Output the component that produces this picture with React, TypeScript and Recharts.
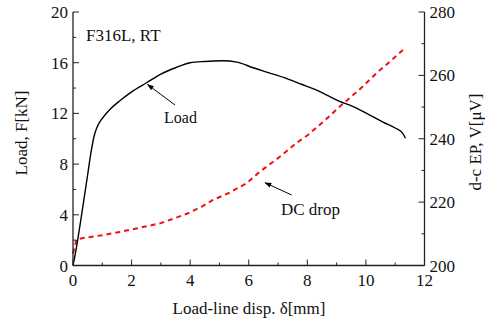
import React from "react";
import { ComposedChart, XAxis, YAxis, Line, Label } from "recharts";

// displacement [mm] vs load [kN]
const loadX = [0, 0.1, 0.3, 0.49, 0.62, 0.72, 0.81, 0.92, 1.03, 1.3, 1.6, 2.0, 2.5, 3.0, 3.5, 4.0, 4.5, 5.1, 5.6, 6.15, 6.7, 7.3, 7.8, 8.3, 8.7, 9.1, 9.45, 10.13, 10.6, 11.0, 11.26, 11.35];
const loadF = [0, 1.2, 4.1, 7.0, 9.0, 10.2, 10.85, 11.35, 11.7, 12.4, 13.0, 13.7, 14.4, 15.1, 15.6, 16.0, 16.1, 16.15, 16.05, 15.6, 15.2, 14.75, 14.3, 13.85, 13.4, 12.95, 12.65, 11.87, 11.3, 10.85, 10.43, 10.04];

// displacement [mm] vs d-c potential drop [uV]
const dcX = [0, 0.12, 0.5, 1.03, 1.6, 2.17, 2.97, 3.5, 3.93, 4.4, 4.78, 5.3, 5.92, 6.38, 7.06, 7.62, 8.02, 8.6, 9.16, 9.8, 10.35, 10.9, 11.26];
const dcV = [203.8, 208.3, 208.9, 209.6, 210.6, 211.7, 213.3, 215.0, 216.5, 218.6, 220.7, 222.8, 225.9, 229.6, 234.3, 238.6, 241.2, 245.8, 250.6, 255.7, 260.6, 265.0, 268.0];

const xTicks = [0, 1, 2, 3, 4, 5, 6, 7, 8, 9, 10, 11, 12];
const leftTicks = [0, 2, 4, 6, 8, 10, 12, 14, 16, 18, 20];
const rightTicks = [200, 210, 220, 230, 240, 250, 260, 270, 280];

const loadData = loadX.map((x, i) => ({ x, y: loadF[i] }));
const dcData = dcX.map((x, i) => ({ x, y: dcV[i] }));

const FONT = "Liberation Serif, Times New Roman, serif";
const AXIS = "#222";
const MAJOR = 6;
const MINOR = 3;

const BottomTick = (props: any) => {
  const { x, y, payload } = props;
  const major = payload.value % 2 === 0;
  return (
    <g>
      <line x1={x} y1={y} x2={x} y2={y - (major ? MAJOR : MINOR)} stroke={AXIS} strokeWidth={1} />
      {major && (
        <text x={x} y={y + 20} textAnchor="middle" fontFamily={FONT} fontSize={17} fill="#111">
          {payload.value}
        </text>
      )}
    </g>
  );
};

const TopTick = (props: any) => {
  const { x, y, payload } = props;
  const major = payload.value % 2 === 0;
  return <line x1={x} y1={y} x2={x} y2={y + (major ? MAJOR : MINOR)} stroke={AXIS} strokeWidth={1} />;
};

const LeftTick = (props: any) => {
  const { x, y, payload } = props;
  const major = payload.value % 4 === 0;
  return (
    <g>
      <line x1={x} y1={y} x2={x + (major ? MAJOR : MINOR)} y2={y} stroke={AXIS} strokeWidth={1} />
      {major && (
        <text x={x - 5} y={y + 6} textAnchor="end" fontFamily={FONT} fontSize={17} fill="#111">
          {payload.value}
        </text>
      )}
    </g>
  );
};

const RightTick = (props: any) => {
  const { x, y, payload } = props;
  const major = payload.value % 20 === 0;
  return (
    <g>
      <line x1={x} y1={y} x2={x - (major ? MAJOR : MINOR)} y2={y} stroke={AXIS} strokeWidth={1} />
      {major && (
        <text x={x + 5} y={y + 6} textAnchor="start" fontFamily={FONT} fontSize={17} fill="#111">
          {payload.value}
        </text>
      )}
    </g>
  );
};

const titleStyle = { fontFamily: FONT, fontSize: 17, fill: "#111" };

export default function App() {
  return (
    <div style={{ position: "absolute", left: 0, top: 0, width: 485, height: 324, background: "#fff" }}>
      <ComposedChart width={485} height={324} margin={{ top: 12, right: 0, bottom: 0, left: 0 }}>
        <XAxis
          xAxisId="bottom"
          dataKey="x"
          type="number"
          domain={[0, 12]}
          ticks={xTicks}
          interval={0}
          height={58.5}
          tickSize={0}
          tickMargin={0}
          tickLine={false}
          tick={<BottomTick />}
          axisLine={{ stroke: AXIS, strokeWidth: 1.3 }}
        >
          <Label
            content={() => (
              <text x={249} y={314} textAnchor="middle" {...titleStyle}>
                Load-line disp. δ[mm]
              </text>
            )}
          />
        </XAxis>
        <XAxis
          xAxisId="top"
          dataKey="x"
          type="number"
          orientation="top"
          domain={[0, 12]}
          ticks={xTicks}
          interval={0}
          height={0}
          tickSize={0}
          tickMargin={0}
          tickLine={false}
          tick={<TopTick />}
          axisLine={{ stroke: AXIS, strokeWidth: 1.3 }}
        />
        <YAxis
          yAxisId="left"
          type="number"
          domain={[0, 20]}
          ticks={leftTicks}
          interval={0}
          width={73}
          tickSize={0}
          tickMargin={0}
          tickLine={false}
          tick={<LeftTick />}
          axisLine={{ stroke: AXIS, strokeWidth: 1.3 }}
        >
          <Label
            content={() => (
              <text x={27} y={133} textAnchor="middle" transform="rotate(-90 27 133)" {...titleStyle}>
                Load, F[kN]
              </text>
            )}
          />
        </YAxis>
        <YAxis
          yAxisId="right"
          orientation="right"
          type="number"
          domain={[200, 280]}
          ticks={rightTicks}
          interval={0}
          width={60.5}
          tickSize={0}
          tickMargin={0}
          tickLine={false}
          tick={<RightTick />}
          axisLine={{ stroke: AXIS, strokeWidth: 1.3 }}
        >
          <Label
            content={() => (
              <text x={481} y={142} textAnchor="middle" transform="rotate(-90 481 142)" {...titleStyle}>
                d-c EP, V[μV]
              </text>
            )}
          />
        </YAxis>
        <Line
          data={dcData}
          xAxisId="bottom"
          yAxisId="right"
          dataKey="y"
          type="linear"
          stroke="#ee1111"
          strokeWidth={2}
          strokeDasharray="5 4"
          dot={false}
          isAnimationActive={false}
        />
        <Line
          data={loadData}
          xAxisId="bottom"
          yAxisId="left"
          dataKey="y"
          type="monotone"
          stroke="#000"
          strokeWidth={1.4}
          dot={false}
          isAnimationActive={false}
        />
      </ComposedChart>
      <svg
        width={485}
        height={324}
        style={{ position: "absolute", left: 0, top: 0, pointerEvents: "none" }}
      >
        <defs>
          <marker id="arr" viewBox="0 0 10 10" refX="9" refY="5" markerWidth="7" markerHeight="7" orient="auto">
            <path d="M0,1.5 L10,5 L0,8.5 z" fill="#000" />
          </marker>
        </defs>
        <text x={86} y={41} fontFamily={FONT} fontSize={17} fill="#111">F316L, RT</text>
        <text x={164} y={123} fontFamily={FONT} fontSize={16} fill="#111">Load</text>
        <line x1={175} y1={105} x2={147.5} y2={84.5} stroke="#000" strokeWidth={1} markerEnd="url(#arr)" />
        <text x={281} y={215} fontFamily={FONT} fontSize={17} fill="#111">DC drop</text>
        <line x1={291.7} y1={195} x2={265} y2={182.7} stroke="#000" strokeWidth={1} markerEnd="url(#arr)" />
      </svg>
    </div>
  );
}
